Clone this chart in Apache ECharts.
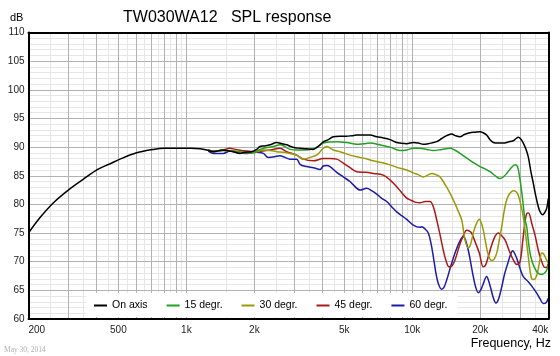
<!DOCTYPE html>
<html><head><meta charset="utf-8">
<script src="https://cdn.jsdelivr.net/npm/echarts@6/dist/echarts.min.js"></script>
<style>html,body{margin:0;padding:0;background:#fff}#c{width:560px;height:356px}</style>
</head><body><div id="c"></div>
<script>
// ---- data (frequency in Hz, level in dB) ----
const xLabelFreqs = [200, 500, 1000, 2000, 5000, 10000, 20000, 40000];
const xMajorGridFreqs = [300,400,500,600,700,800,900,1000,2000,3000,4000,5000,6000,7000,8000,9000,10000,20000,30000];
const xMinorGridFreqs = [250,350,450,550,650,750,850,950,1500,2500,3500,4500,5500,6500,7500,8500,9500,15000,25000,35000];
const seriesNames = ['On axis', '15 degr.', '30 degr.', '45 degr.', '60 degr.'];
const seriesColors = ['#000000', '#22a022', '#9a9a08', '#aa1818', '#1c1ca6'];

const onAxis = [[200,75.0],[225,77.7],[258,80.3],[300,82.5],[350,84.4],[405,86.1],[460,87.1],[508,87.9],[602,89.0],[714,89.6],[800,89.8],[900,89.8],[1050,89.8],[1150,89.7],[1230,89.5],[1316,89.2],[1400,89.4],[1457,89.5],[1540,89.3],[1613,89.2],[1728,88.9],[1800,89.1],[1946,89.2],[2047,89.6],[2118,90.1],[2200,90.2],[2345,90.4],[2510,90.8],[2650,90.6],[2780,90.4],[2900,90.1],[3025,89.9],[3184,89.8],[3400,89.7],[3646,89.6],[3800,90.0],[4036,90.9],[4250,91.3],[4470,91.8],[4786,91.9],[5124,91.9],[5400,92.0],[5675,92.1],[6100,92.1],[6498,92.1],[6956,91.8],[7440,91.6],[7968,91.3],[8532,90.8],[8822,90.7],[9446,90.6],[10104,90.8],[10633,90.7],[11190,90.5],[11772,90.6],[12388,90.8],[12824,90.95],[13500,91.5],[14200,92.0],[14940,92.3],[15500,92.0],[16264,91.8],[17000,92.2],[18006,92.5],[18900,92.6],[19940,92.7],[20600,92.5],[21340,92.1],[22080,91.3],[22840,90.8],[24000,90.7],[25300,90.7],[26600,90.9],[28000,91.1],[28800,91.5],[29460,91.7],[30200,91.4],[31000,90.7],[31800,89.7],[32620,88.3],[33400,86.0],[34320,83.7],[35200,81.5],[36120,79.6],[36900,78.6],[37780,78.2],[38600,78.6],[39360,79.3],[40000,81.0]];

const deg15 = [[1250,89.5],[1316,89.2],[1400,89.3],[1457,89.4],[1613,89.3],[1728,89.1],[1849,89.0],[1946,89.0],[2047,89.3],[2190,89.8],[2425,90.1],[2596,90.4],[2700,90.2],[2875,89.6],[3100,89.5],[3293,89.5],[3646,89.7],[3850,90.2],[4036,90.7],[4300,90.9],[4628,90.95],[5124,90.8],[5675,90.5],[6100,90.6],[6498,90.7],[7194,90.4],[7968,90.0],[8822,89.4],[9446,89.5],[10104,89.8],[10820,89.8],[11600,89.6],[12388,89.4],[13500,89.6],[14680,89.8],[15400,89.5],[16264,88.9],[17100,88.3],[18006,87.7],[19000,87.1],[19940,86.6],[21000,86.2],[22080,85.7],[23300,85.0],[24460,84.5],[25300,84.8],[26180,85.4],[27300,86.3],[28480,86.9],[29200,86.6],[29800,85.0],[30500,82.2],[31000,79.8],[31540,77.3],[32100,76.1],[32600,73.8],[33200,71.5],[34000,69.9],[34920,68.8],[35800,68.1],[36760,67.8],[37700,67.8],[38680,68.1],[39400,68.6],[40000,69.4]];

const deg30 = [[1250,89.5],[1316,89.2],[1457,89.4],[1613,89.3],[1800,89.1],[1946,89.0],[2047,89.2],[2190,89.5],[2345,89.4],[2510,89.2],[2700,89.1],[2875,88.9],[3078,88.6],[3293,87.9],[3526,88.2],[3800,88.7],[4036,89.8],[4179,90.1],[4470,89.5],[4786,89.2],[5300,88.6],[5675,88.3],[6200,88.0],[6721,87.6],[7300,87.3],[7968,86.9],[8822,86.3],[9446,86.0],[10104,85.5],[10600,85.2],[11190,84.8],[11700,85.1],[12188,85.4],[12700,85.2],[13260,84.8],[14200,83.0],[15188,80.8],[15900,79.0],[16550,77.3],[17114,73.8],[17700,72.4],[18100,73.0],[18622,75.0],[19200,76.6],[19798,77.4],[20200,76.8],[20620,75.5],[21200,73.0],[21700,71.2],[22460,70.2],[23000,70.4],[23640,71.5],[24200,73.5],[24880,76.1],[25500,78.8],[26180,80.8],[27000,81.9],[28000,82.4],[28800,82.2],[29460,81.6],[30200,80.0],[31000,77.8],[31800,74.5],[32600,71.0],[33200,68.5],[33800,67.0],[34500,66.9],[35300,67.3],[36000,68.5],[36700,70.3],[37400,71.5],[38200,71.3],[39080,70.5],[40000,69.8]];

const deg45 = [[1250,89.5],[1316,89.3],[1450,89.5],[1560,89.8],[1650,89.6],[1849,89.3],[2047,89.2],[2345,89.5],[2596,89.8],[2780,89.2],[3078,88.6],[3293,87.9],[3646,87.6],[4036,88.0],[4322,88.0],[4628,87.9],[4950,87.2],[5300,86.4],[5675,85.7],[6200,85.6],[6721,85.4],[7440,85.1],[8000,84.2],[8532,83.1],[9000,82.0],[9446,81.1],[9770,80.8],[10300,80.4],[10820,80.3],[11400,80.5],[11978,80.5],[12388,79.6],[12824,77.3],[13300,74.5],[13716,72.0],[14100,70.2],[14540,69.1],[15000,69.3],[15454,70.3],[16300,73.2],[17000,75.0],[17414,75.5],[18000,75.3],[18320,75.0],[19000,73.4],[19798,71.5],[20620,69.1],[21100,69.4],[21700,70.9],[22500,73.0],[23300,74.5],[24040,75.0],[24800,74.6],[25740,73.8],[26800,72.0],[28000,70.3],[29000,69.5],[29980,70.0],[30800,73.5],[31500,76.8],[32100,78.4],[32700,78.5],[33780,76.7],[35000,74.5],[36120,72.0],[37200,70.3],[38280,69.1],[39200,69.0],[40000,69.7]];

const deg60 = [[1250,89.3],[1316,88.9],[1457,88.9],[1560,89.3],[1700,89.0],[1849,88.9],[2047,89.1],[2190,88.9],[2304,88.2],[2450,88.3],[2596,88.5],[2875,87.9],[3078,87.9],[3184,87.0],[3400,86.6],[3650,86.4],[3904,86.1],[4036,86.7],[4179,86.8],[4322,86.6],[4628,85.6],[4950,84.8],[5300,84.0],[5482,83.4],[5869,82.5],[6284,82.8],[6600,82.4],[6956,81.8],[7300,81.1],[7703,80.5],[8100,79.6],[8532,78.7],[9000,78.0],[9446,77.4],[10104,76.4],[10820,76.0],[11008,76.1],[11400,75.7],[11772,75.0],[12100,73.2],[12388,70.9],[12700,68.2],[13032,66.2],[13492,65.2],[13800,65.5],[14200,66.8],[14800,69.2],[15454,71.5],[16200,73.5],[16820,74.4],[17200,73.8],[17700,72.0],[18200,69.5],[18622,67.4],[19100,65.5],[19596,64.6],[20100,65.1],[20500,65.9],[21340,67.4],[21800,66.6],[22240,65.4],[22800,63.8],[23460,62.8],[24100,63.5],[24880,65.6],[25600,67.8],[26460,69.7],[27200,71.2],[27820,71.9],[28500,71.3],[29160,70.3],[30000,68.8],[31000,67.4],[32620,66.5],[34000,65.6],[35540,64.5],[36800,63.5],[38020,62.7],[39000,62.8],[40000,63.6]];

const allSeries = [onAxis, deg15, deg30, deg45, deg60];

// ---- chart ----
const FONT = 'Liberation Sans, Arial, sans-serif';
const lg = v => Math.log10(v);
const xMin = lg(200), xMax = lg(40000);
const fmtFreq = v => { const f = Math.round(Math.pow(10, v)); return f >= 1000 ? (f / 1000) + 'k' : String(f); };
const toXY = arr => arr.map(p => [lg(p[0]), p[1]]);

const chart = echarts.init(document.getElementById('c'), null, { renderer: 'canvas' });

const series = [];
for (let i = allSeries.length - 1; i >= 0; i--) {
  series.push({
    name: seriesNames[i], type: 'line', data: toXY(allSeries[i]),
    xAxisIndex: 0, yAxisIndex: 0, showSymbol: false, smooth: 0.35,
    lineStyle: { color: seriesColors[i], width: 1.5 }, itemStyle: { color: seriesColors[i] },
    silent: true, animation: false, z: 2
  });
}

const txt = (s, o) => Object.assign({ text: s, padding: 0, textStyle: { fontFamily: FONT, fontWeight: 'normal', color: '#000' } }, o);

chart.setOption({
  animation: false,
  backgroundColor: '#ffffff',
  title: [
    txt('TW030WA12   SPL response', { left: 123, top: 10, textStyle: { fontFamily: FONT, fontWeight: 'normal', color: '#000', fontSize: 16 } }),
    txt('dB', { left: 10, top: 12, textStyle: { fontFamily: FONT, fontWeight: 'normal', color: '#000', fontSize: 11 } }),
    txt('Frequency, Hz', { right: 9, top: 337, textStyle: { fontFamily: FONT, fontWeight: 'normal', color: '#000', fontSize: 12.5 } }),
    txt('May 30, 2014', { left: 4, top: 346, textStyle: { fontFamily: 'Liberation Serif, serif', fontWeight: 'normal', color: '#b0b0b0', fontSize: 7.5 } })
  ],
  legend: {
    data: seriesNames, left: 86, top: 293, orient: 'horizontal', selectedMode: false,
    icon: 'rect', itemWidth: 13, itemHeight: 2, itemGap: 19,
    backgroundColor: '#ffffff', padding: [7, 10, 6, 8],
    textStyle: { fontFamily: FONT, fontSize: 10.5, color: '#000', width: 40 }
  },
  grid: { left: 28.5, right: 11.7, top: 32.5, bottom: 37, containLabel: false },
  xAxis: [
    { type: 'value', position: 'bottom', min: xMin, max: xMax, z: 1,
      axisLine: { show: true, onZero: false, lineStyle: { color: '#000', width: 2 } },
      axisTick: { show: false, customValues: xMajorGridFreqs.map(lg) },
      axisLabel: { customValues: xLabelFreqs.map(lg), formatter: fmtFreq, fontFamily: FONT, fontSize: 10, color: '#222', margin: 6, showMinLabel: true, showMaxLabel: true, alignMinLabel: 'left', alignMaxLabel: 'right' },
      splitLine: { show: true, lineStyle: { color: '#b2b2b2', width: 1 } } },
    { type: 'value', position: 'bottom', min: xMin, max: xMax, z: 0,
      axisLine: { show: false }, axisLabel: { show: false },
      axisTick: { show: false, customValues: xMinorGridFreqs.map(lg) },
      splitLine: { show: true, lineStyle: { color: '#e6e6e6', width: 1 } } },
    { type: 'value', position: 'top', min: xMin, max: xMax, z: 5,
      axisLine: { show: true, onZero: false, lineStyle: { color: '#000', width: 2 } },
      axisTick: { show: false }, axisLabel: { show: false }, splitLine: { show: false } }
  ],
  yAxis: [
    { type: 'value', position: 'left', min: 60, max: 110, interval: 5, z: 1,
      axisLine: { show: true, onZero: false, lineStyle: { color: '#000', width: 2 } },
      axisTick: { show: false },
      axisLabel: { fontFamily: FONT, fontSize: 10, color: '#222', margin: 4 },
      splitLine: { show: true, lineStyle: { color: '#b2b2b2', width: 1 } },
      minorTick: { show: false, splitNumber: 5 },
      minorSplitLine: { show: true, lineStyle: { color: '#e6e6e6', width: 1 } } },
    { type: 'value', position: 'right', min: 60, max: 110, interval: 5, z: 5,
      axisLine: { show: true, onZero: false, lineStyle: { color: '#000', width: 2 } },
      axisTick: { show: false }, axisLabel: { show: false }, splitLine: { show: false } }
  ],
  series: series
});
</script>
</body></html>
